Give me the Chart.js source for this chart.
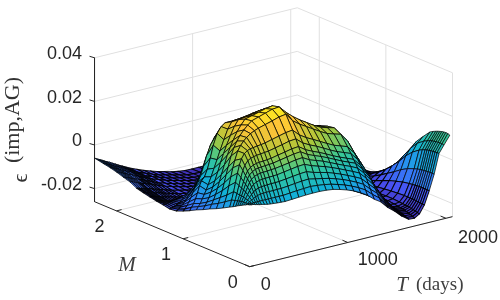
<!DOCTYPE html>
<html><head><meta charset="utf-8">
<style>html,body{margin:0;padding:0;background:#fff}canvas{display:block}</style>
<script src="https://cdn.jsdelivr.net/npm/chart.js@4"></script></head>
<body><canvas id="c" width="500" height="300"></canvas>
<script>
const tValues=[0,20,40,60,80,100,120,150,180,210,240,280,320,360,430,500,570,640,710,780,850,920,990,1060,1130,1200,1270,1340,1410,1480,1550,1620,1680,1730,1780,1830,1880,1930,1980,2040];
const mValues=[0,.03,.06,.09,.12,.15,.18,.21,.25,.3,.4,.5,.6,.7,.8,.9,1,1.1,1.2,1.3,1.4,1.5,1.6,1.7,1.8,1.9,2,2.1,2.2,2.33];
// surface height in units of 1e-4, one row per M value, one column per T value
const zRows=[
[23,22,21,18,16,14,12,9,6,4,3,1,0,-1,1,3,5,6,6,4,0,-8,-18,-30,-46,-65,-92,-112,-145,-170,-200,-222,-224,-210,-175,-115,-45,45,78,117],
[21,21,22,22,22,22,23,23,23,23,23,23,23,23,26,29,31,33,30,26,20,11,1,-12,-27,-45,-73,-97,-134,-164,-196,-218,-220,-208,-174,-114,-44,45,80,120],
[16,20,25,31,36,41,45,48,49,50,50,50,51,51,54,58,61,63,56,50,43,33,22,9,-6,-23,-53,-80,-122,-156,-190,-214,-216,-205,-173,-114,-44,44,80,121],
[11,19,29,40,50,60,67,72,75,76,77,78,78,79,83,87,91,93,82,74,66,55,43,29,15,-1,-32,-63,-110,-149,-185,-210,-213,-203,-172,-114,-45,43,79,120],
[6,18,32,48,64,78,88,96,100,102,103,104,105,106,111,116,121,123,109,99,89,77,64,50,36,21,-11,-47,-98,-142,-180,-206,-210,-201,-171,-114,-46,42,78,118],
[1,17,35,56,76,95,108,118,123,126,127,128,130,131,136,141,147,150,132,121,110,96,82,68,55,40,8,-32,-87,-136,-176,-203,-207,-199,-170,-114,-47,40,76,115],
[-4,15,37,62,86,108,124,136,143,146,147,149,150,152,158,164,170,173,153,140,128,114,99,84,71,58,24,-18,-77,-130,-172,-200,-205,-198,-170,-115,-48,38,74,112],
[-10,12,37,66,94,120,138,152,159,163,165,166,168,170,177,183,190,193,171,156,143,128,112,98,85,72,38,-7,-69,-125,-169,-198,-203,-197,-170,-116,-50,35,71,108],
[-17,9,39,73,108,138,159,177,185,189,192,194,196,198,205,212,220,223,197,180,166,150,133,118,106,94,59,10,-57,-118,-165,-196,-201,-195,-170,-118,-53,30,65,102],
[-25,5,41,82,122,158,183,204,214,219,221,224,226,229,237,245,253,257,227,207,191,174,157,141,130,119,82,28,-44,-110,-160,-193,-198,-194,-170,-120,-58,22,58,93],
[-42,-16,13,53,92,131,163,203,225,242,255,268,277,284,293,302,312,317,279,256,237,218,199,182,172,163,124,62,-19,-95,-155,-190,-195,-192,-172,-126,-70,0,35,60],
[-58,-36,-11,18,51,87,120,167,203,229,251,272,290,305,315,325,335,338,305,278,255,235,215,198,188,180,140,75,-10,-90,-155,-190,-194,-192,-175,-135,-88,-30,0,25],
[-72,-53,-35,-12,14,43,73,114,155,188,218,252,278,300,308,316,325,330,295,268,248,228,208,192,182,174,136,73,-15,-92,-157,-191,-195,-193,-178,-145,-110,-68,-45,-30],
[-88,-73,-58,-40,-17,5,31,69,110,147,181,222,259,285,288,294,302,306,273,250,232,214,196,180,171,163,127,66,-22,-100,-160,-193,-197,-195,-182,-158,-130,-100,-90,-92],
[-102,-89,-77,-58,-40,-22,0,33,69,105,142,189,233,262,268,272,278,282,252,231,214,197,181,166,158,150,115,55,-30,-112,-165,-196,-200,-198,-188,-170,-150,-130,-125,-130],
[-118,-105,-90,-70,-45,-15,5,20,52,100,155,205,232,245,245,246,247,247,225,206,191,176,161,148,141,135,104,48,-40,-125,-172,-200,-204,-202,-194,-182,-168,-155,-152,-160],
[-133,-125,-112,-98,-80,-60,-40,-18,10,50,95,140,170,190,195,195,192,188,170,155,143,130,118,108,100,95,70,25,-60,-140,-180,-204,-208,-207,-200,-192,-182,-175,-172,-182],
[-145,-140,-132,-125,-115,-105,-92,-78,-60,-38,-12,25,60,90,100,98,92,85,75,68,60,52,45,38,32,28,10,-25,-95,-160,-188,-207,-212,-211,-206,-200,-193,-188,-187,-195],
[-149,-147,-144,-140,-135,-130,-122,-112,-100,-88,-75,-58,-42,-30,-20,-22,-28,-34,-40,-46,-52,-58,-64,-70,-75,-80,-92,-115,-150,-180,-195,-210,-214,-214,-210,-206,-201,-197,-197,-203],
[-143,-142,-141,-140,-138,-136,-134,-131,-128,-125,-122,-118,-114,-110,-112,-118,-125,-132,-138,-143,-148,-153,-157,-161,-165,-170,-175,-182,-190,-190,-200,-212,-215,-216,-213,-210,-206,-204,-204,-206],
[-138,-140,-142,-144,-146,-148,-150,-153,-156,-159,-162,-166,-170,-174,-180,-185,-190,-194,-197,-200,-203,-205,-205,-205,-205,-206,-206,-207,-207,-208,-208,-210,-212,-213,-213,-212,-211,-210,-209,-208],
[-132,-134,-137,-139,-141,-143,-146,-149,-152,-155,-159,-164,-168,-173,-179,-185,-190,-194,-198,-202,-205,-207,-207,-207,-208,-208,-208,-209,-209,-209,-209,-212,-214,-214,-213,-212,-211,-210,-209,-208],
[-125,-127,-130,-132,-135,-137,-140,-143,-147,-151,-155,-160,-165,-170,-176,-183,-189,-194,-198,-202,-206,-208,-208,-208,-209,-209,-209,-210,-210,-210,-210,-212,-214,-214,-213,-212,-212,-211,-210,-209],
[-117,-120,-123,-125,-128,-131,-134,-137,-142,-146,-150,-156,-162,-167,-175,-182,-189,-194,-199,-203,-207,-210,-210,-210,-210,-210,-211,-211,-211,-211,-211,-213,-214,-214,-214,-213,-213,-212,-211,-210],
[-101,-104,-108,-111,-114,-118,-121,-125,-131,-135,-141,-148,-154,-161,-170,-179,-186,-193,-199,-204,-209,-212,-212,-212,-212,-212,-212,-212,-212,-212,-212,-214,-215,-215,-215,-214,-214,-213,-212,-211],
[-92,-96,-99,-103,-107,-110,-114,-119,-125,-130,-136,-143,-151,-158,-168,-177,-186,-193,-199,-205,-210,-214,-214,-214,-214,-214,-214,-214,-214,-214,-214,-215,-216,-216,-216,-215,-215,-214,-213,-212],
[-82,-86,-90,-94,-98,-102,-106,-111,-118,-123,-130,-138,-146,-154,-164,-175,-184,-192,-199,-206,-211,-215,-215,-215,-215,-215,-215,-215,-215,-215,-215,-216,-216,-216,-216,-216,-215,-215,-214,-213],
[-74,-78,-83,-87,-91,-95,-100,-105,-113,-118,-125,-134,-143,-151,-163,-174,-184,-193,-200,-207,-213,-217,-217,-217,-217,-217,-217,-217,-217,-217,-217,-217,-217,-217,-217,-216,-216,-215,-215,-214],
[-68,-72,-77,-82,-86,-90,-95,-101,-108,-115,-122,-131,-140,-149,-161,-173,-184,-192,-200,-208,-214,-218,-218,-218,-218,-218,-218,-218,-218,-218,-218,-218,-217,-217,-217,-216,-216,-215,-215,-214],
[-60,-65,-70,-74,-79,-84,-89,-95,-103,-110,-118,-127,-137,-146,-159,-172,-183,-193,-201,-209,-215,-219,-220,-220,-220,-219,-219,-218,-217,-216,-215,-214,-213,-212,-211,-210,-209,-208,-207,-206]
];
const zTicks=[-0.02,0,0.02,0.04];
const zTickLabels=['-0.02','0','0.02','0.04'];
const tTicks=[0,1000,2000];
const tTickLabels=['0','1000','2000'];
const mTicks=[0,1,2];
const mTickLabels=['0','1','2'];
const tLimit=2067, mLimit=2.33, zLow=-0.026, zHigh=0.04;
const colorLow=-0.024, colorHigh=0.036;
const parula=[[62,38,168],[72,82,244],[46,135,247],[18,177,214],[55,200,151],[171,199,57],[254,195,56],[249,251,21]];

const px=(t,m)=>249.7+0.0981*t-66.6*m;
const py=(t,m,z)=>210-0.0242*t-27.9*m-2180*z;
const pt=(t,m,z)=>({x:px(t,m),y:py(t,m,z)});
function colorOf(z){
  let f=(z-colorLow)/(colorHigh-colorLow);f=Math.max(0,Math.min(1,f))*(parula.length-1);
  const i=Math.min(parula.length-2,Math.floor(f)),w=f-i;
  const c=parula[i].map((v,k)=>Math.round(v+(parula[i+1][k]-v)*w));
  return `rgb(${c[0]},${c[1]},${c[2]})`;
}
const datasets=[];
// nearest quads first: Chart.js paints the first dataset last
for(let i=0;i<tValues.length-1;i++){
  for(let j=0;j<mValues.length-1;j++){
    const a=zRows[j][i]/1e4,b=zRows[j][i+1]/1e4,c=zRows[j+1][i+1]/1e4,d=zRows[j+1][i]/1e4;
    const mean=(a+b+c+d)/4;
    datasets.push({quad:true,fillColor:colorOf(mean),edgeWidth:mean<-0.012?1.05:0.8,pointRadius:0,
      data:[pt(tValues[i],mValues[j],a),pt(tValues[i+1],mValues[j],b),pt(tValues[i+1],mValues[j+1],c),pt(tValues[i],mValues[j+1],d)]});
  }
}
function seg(points,color,width){datasets.push({showLine:true,borderColor:color,borderWidth:width,pointRadius:0,data:points});}
const ink='#262626',grid='#e0e0e0';
// ticks and box edges
zTicks.forEach(z=>seg([pt(0,mLimit,z),{x:px(0,mLimit)-5,y:py(0,mLimit,z)-1.5}],ink,1));
tTicks.forEach(t=>seg([pt(t,0,zLow),pt(t,0.08,zLow)],ink,1));
mTicks.forEach(m=>seg([pt(0,m,zLow),pt(52,m,zLow)],ink,1));
seg([pt(0,mLimit,zHigh),pt(0,mLimit,zLow),pt(0,0,zLow),pt(tLimit,0,zLow)],ink,1);
// walls and floor grid
zTicks.forEach(z=>seg([pt(0,mLimit,z),pt(tLimit,mLimit,z),pt(tLimit,0,z)],grid,1));
tTicks.slice(1).forEach(t=>seg([pt(t,0,zLow),pt(t,mLimit,zLow),pt(t,mLimit,zHigh)],grid,1));
mTicks.forEach(m=>seg([pt(0,m,zLow),pt(tLimit,m,zLow),pt(tLimit,m,zHigh)],grid,1));

const quadPlugin={id:'quads',beforeDatasetDraw(chart,args){
  const ds=chart.data.datasets[args.index];
  if(!ds.quad)return;
  const p=args.meta.data,ctx=chart.ctx;
  ctx.save();ctx.beginPath();ctx.moveTo(p[0].x,p[0].y);
  for(let k=1;k<4;k++)ctx.lineTo(p[k].x,p[k].y);
  ctx.closePath();ctx.fillStyle=ds.fillColor;ctx.fill();
  ctx.strokeStyle='rgba(0,0,0,0.9)';ctx.lineWidth=ds.edgeWidth;ctx.lineJoin='round';ctx.stroke();ctx.restore();
  return false;
}};
const textPlugin={id:'labels',afterDraw(chart){
  const ctx=chart.ctx;ctx.save();ctx.fillStyle=ink;ctx.textBaseline='middle';
  ctx.font='18px "Liberation Sans"';ctx.textAlign='right';
  zTicks.forEach((z,i)=>ctx.fillText(zTickLabels[i],82,py(0,mLimit,z)-3.5));
  ctx.textAlign='center';
  mTicks.forEach((m,i)=>ctx.fillText(mTickLabels[i],px(0,m)-17,py(0,m,zLow)+16));
  tTicks.forEach((t,i)=>ctx.fillText(tTickLabels[i],px(t,0)+[16,30,32][i],py(t,0,zLow)+[18,18,19.5][i]));
  ctx.fillStyle='#404040';
  ctx.font='italic 21px "Liberation Serif"';
  ctx.fillText('M',127,265);
  ctx.fillText('T',402,285);
  ctx.font='19px "Liberation Serif"';ctx.textAlign='left';
  ctx.fillText('(days)',416,285);
  ctx.fillStyle='#333';
  ctx.translate(13,120);ctx.rotate(-Math.PI/2);ctx.textAlign='center';
  ctx.font='22px "Liberation Serif"';ctx.fillText('(imp,AG)',0,0);
  ctx.font='22px "Liberation Serif"';ctx.fillText('\u03F5',-58,8);
  ctx.restore();
}};
new Chart(document.getElementById('c'),{type:'scatter',data:{datasets},plugins:[quadPlugin,textPlugin],
  options:{responsive:false,animation:false,parsing:false,normalized:true,events:[],
    layout:{padding:0},
    plugins:{legend:{display:false},tooltip:{enabled:false},title:{display:false}},
    scales:{x:{type:'linear',display:false,min:0,max:500},y:{type:'linear',display:false,min:0,max:300,reverse:true}}}});
</script></body></html>
